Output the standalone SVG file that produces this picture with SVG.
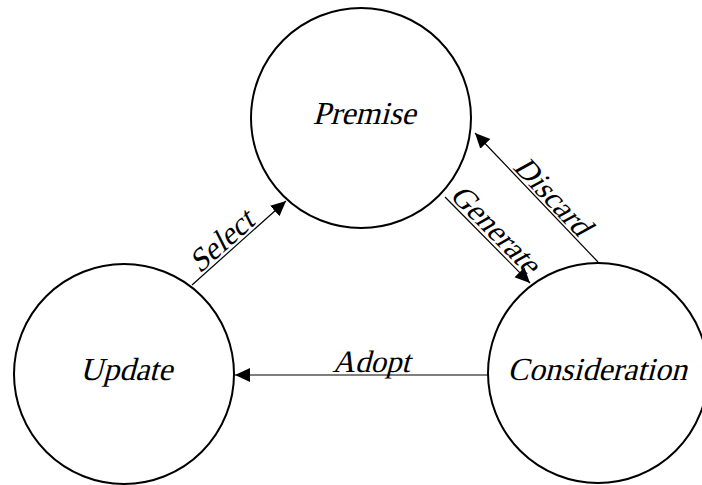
<svg xmlns="http://www.w3.org/2000/svg" width="702" height="485" viewBox="0 0 702 485">
<style>
.node{fill:#fff;stroke:#000;stroke-width:2}
.edge{stroke:#000;stroke-width:1.2;fill:none;marker-end:url(#ah)}
.nt{font-family:'Liberation Serif','Times New Roman',serif;font-size:32px;fill:#000;text-anchor:middle}
.lt{font-family:'Liberation Serif','Times New Roman',serif;font-size:31px;fill:#000;text-anchor:middle}
</style>
<defs>
<marker id="ah" markerUnits="userSpaceOnUse" markerWidth="16" markerHeight="16" viewBox="0 0 16 16" refX="15" refY="7" orient="auto">
<path d="M0,0 L15,7 L0,14 Z" fill="#000"/>
</marker>
</defs>
<rect width="702" height="485" fill="#fff"/>
<g id="premise"><circle class="node" cx="361" cy="118" r="110"/><text class="nt" transform="translate(364,124) skewX(-15)">Premise</text></g>
<g id="update"><circle class="node" cx="124" cy="374" r="110"/><text class="nt" transform="translate(126,380) skewX(-15)">Update</text></g>
<g id="consideration"><circle class="node" cx="598" cy="373" r="110"/><text class="nt" transform="translate(597,380) skewX(-15)">Consideration</text></g>
<g id="connectors">
<line class="edge" x1="192" y1="285" x2="286" y2="201"/>
<line class="edge" x1="445" y1="197" x2="530" y2="283"/>
<line class="edge" x1="598" y1="262" x2="475" y2="133"/>
<line class="edge" x1="488" y1="375" x2="235" y2="375"/>
<text class="lt" transform="translate(230,251) rotate(-41.8) translate(0,-3) skewX(-15)">Select</text>
<text class="lt" transform="translate(486,238) rotate(45.3) translate(0,-3) skewX(-15)">Generate</text>
<text class="lt" transform="translate(543,205) rotate(46.4) translate(0,-3) skewX(-15)">Discard</text>
<text class="lt" transform="translate(371,372) skewX(-15)">Adopt</text>
</g>
</svg>
